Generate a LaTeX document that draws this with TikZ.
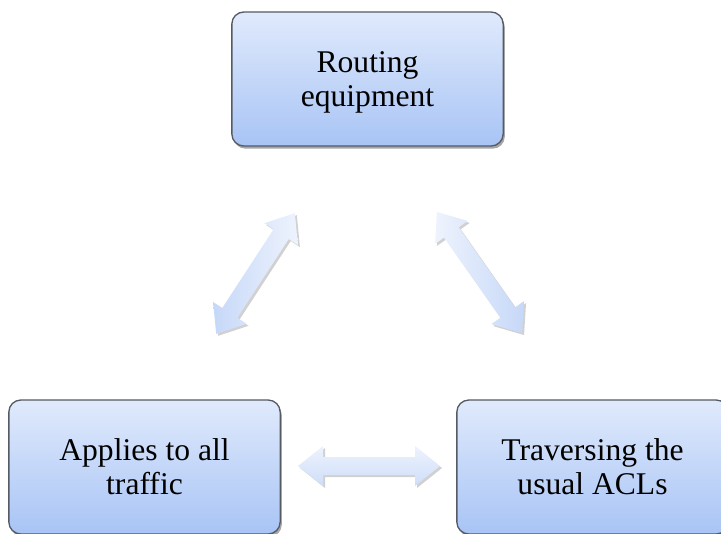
\documentclass[tikz,border=0pt]{standalone}
\usepackage{fontspec}
\setmainfont{Liberation Serif}
\usetikzlibrary{shadows}
\definecolor{boxtop}{HTML}{E0EAFC}
\definecolor{boxbot}{HTML}{A8C4F5}
\definecolor{boxline}{HTML}{555A63}
\definecolor{arrlight}{HTML}{EEF3FD}
\definecolor{arrdark}{HTML}{C6D8F8}
\tikzset{
  box/.style={rectangle, rounded corners=9pt, draw=boxline, line width=1pt,
    top color=boxtop, bottom color=boxbot, minimum width=203.5pt, minimum height=100.5pt,
    align=center, font=\fontsize{23.7}{25.5}\selectfont, text=black, text depth=0pt,
    drop shadow={shadow xshift=1.2pt, shadow yshift=-2pt, opacity=0.35, fill=black}},
  arrowshape/.style={drop shadow={shadow xshift=1.5pt, shadow yshift=-1.5pt, opacity=0.18, fill=black}}
}
\newcommand\dblarr[4]{%
  \begin{scope}[shift={#1}, rotate=#2]
    \path[arrowshape, #4] (-#3,0) -- (-#3+25,20) -- (-#3+25,9) -- (#3-25,9) -- (#3-25,20)
      -- (#3,0) -- (#3-25,-20) -- (#3-25,-9) -- (-#3+25,-9) -- (-#3+25,-20) -- cycle;
  \end{scope}}
\begin{document}
\begin{tikzpicture}[x=0.75pt,y=-0.75pt]
\useasboundingbox (0,0) rectangle (721,533);
\node[box] (routing) at (367.5,79) {Routing\\equipment};
\node[box] (applies) at (144.5,467) {Applies to all\\traffic};
\node[box] (traversing) at (592.5,467) {Traversing the\\usual ACLs};
\dblarr{(255.5,273.5)}{56.9}{72}{left color=arrdark, right color=arrlight}
\dblarr{(479.5,272.5)}{125.1}{74}{left color=arrlight, right color=arrdark}
\dblarr{(369,466)}{0}{71}{top color=arrlight, bottom color=arrdark!80!arrlight}
\end{tikzpicture}
\end{document}
